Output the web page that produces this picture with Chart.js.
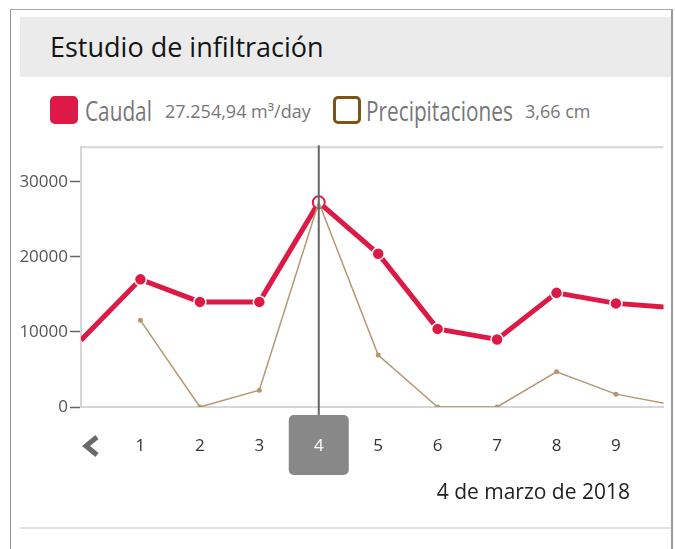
<!DOCTYPE html>
<html>
<head>
<meta charset="utf-8">
<script src="https://cdn.jsdelivr.net/npm/chart.js@4"></script>
<style>
  body { margin: 0; background: #fff; font-family: 'Open Sans', sans-serif; width: 675px; height: 549px; overflow: hidden; position: relative; }
  .frame { position: absolute; left: 10px; top: 9px; width: 660px; height: 600px; border-left: 1px solid #9a9a9a; border-top: 1px solid #aaa; border-right: 2px solid #9a9a9a; z-index: 5; pointer-events: none; }
  .header { position: absolute; left: 20px; top: 17px; width: 651px; height: 60px; background: #ebebeb; }
  .title { position: absolute; left: 50px; top: 46px; transform: translateY(-50%); font-size: 27px; line-height: 1; color: #141414; }
  .lg { position: absolute; top: 110px; transform: translateY(-50%); line-height: 1; color: #777; white-space: nowrap; }
  .cap { font-size: 27px; transform: translateY(-50%) scaleX(0.77); transform-origin: left center; }
  .val { font-size: 18px; top: 111px; }
  .box { position: absolute; top: 96px; width: 28px; height: 28px; border-radius: 5px; box-sizing: border-box; }
  .date { position: absolute; right: 45px; top: 491px; transform: translateY(-50%); font-size: 21px; line-height: 1; color: #222; }
  .sep { position: absolute; left: 20px; top: 527px; width: 651px; height: 2px; background: #e2e2e2; }
  #chart { position: absolute; left: 0; top: 135px; }
</style>
</head>
<body>
<div class="frame"></div>
<div class="header"></div>
<div class="title">Estudio de infiltración</div>
<div class="box" style="left:50px;background:#dc1a45;"></div>
<div class="lg cap" style="left:85px;">Caudal</div>
<div class="lg val" id="caudalVal" style="left:165px;"></div>
<div class="box" style="left:333px;border:3px solid #7d5415;background:#fff;"></div>
<div class="lg cap" style="left:366px;">Precipitaciones</div>
<div class="lg val" id="precipVal" style="left:525px;"></div>
<canvas id="chart" width="671" height="350"></canvas>
<div class="date" id="dateText"></div>
<div class="sep"></div>
<script>
// days shown on the axis (0 is the last day of the previous month, 10 is off screen)
const days = [0, 1, 2, 3, 4, 5, 6, 7, 8, 9, 10];
const dayLabels = ['', '1', '2', '3', '4', '5', '6', '7', '8', '9', ''];
const caudal = [8900, 17000, 14000, 14000, 27254.94, 20400, 10400, 9000, 15200, 13800, 13200];  // m3/day
const precip = [null, 1.55, 0, 0.30, 3.66, 0.93, 0, 0, 0.63, 0.23, 0.03];                          // cm
const yTicks = [0, 10000, 20000, 30000];
const selected = 4;
const selectedDate = '4 de marzo de 2018';

const yMax = 34600;
const xMax = 9.8;
const red = '#dc1a45';
const brown = '#b39871';

document.getElementById('caudalVal').textContent =
  caudal[selected].toLocaleString('es-ES', { minimumFractionDigits: 2 }) + ' m³/day';
document.getElementById('precipVal').textContent =
  precip[selected].toLocaleString('es-ES', { minimumFractionDigits: 2 }) + ' cm';
document.getElementById('dateText').textContent = selectedDate;

const selectionPlugin = {
  id: 'selection',
  beforeDraw(chart) {
    const { ctx, chartArea } = chart;
    const x = chart.scales.x.getPixelForValue(days[selected]);
    // grey box behind the selected day label
    ctx.save();
    ctx.fillStyle = '#888';
    ctx.beginPath();
    ctx.roundRect(x - 30, chartArea.bottom + 8, 60, 60, 5);
    ctx.fill();
    // top border of the plot
    ctx.strokeStyle = '#d6d6d6';
    ctx.lineWidth = 2;
    ctx.beginPath();
    ctx.moveTo(chartArea.left, chartArea.top);
    ctx.lineTo(chartArea.right, chartArea.top);
    ctx.stroke();
    // back chevron
    ctx.strokeStyle = '#6a6a6a';
    ctx.lineWidth = 5;
    ctx.lineJoin = 'miter';
    ctx.beginPath();
    ctx.moveTo(97, chartArea.bottom + 30);
    ctx.lineTo(86, chartArea.bottom + 39);
    ctx.lineTo(97, chartArea.bottom + 48);
    ctx.stroke();
    ctx.restore();
  },
  afterDatasetsDraw(chart) {
    const { ctx, chartArea } = chart;
    const x = chart.scales.x.getPixelForValue(days[selected]);
    ctx.save();
    ctx.strokeStyle = '#666';
    ctx.lineWidth = 2;
    ctx.beginPath();
    ctx.moveTo(x, chartArea.top - 2);
    ctx.lineTo(x, chartArea.bottom + 8);
    ctx.stroke();
    ctx.restore();
  }
};

new Chart(document.getElementById('chart'), {
  type: 'line',
  data: {
    datasets: [
      {
        label: 'Precipitaciones',
        data: days.map((d, i) => ({ x: d, y: precip[i] })),
        yAxisID: 'y2',
        borderColor: brown,
        backgroundColor: brown,
        borderWidth: 1.5,
        pointRadius: (c) => (c.dataIndex === selected ? 0 : 2.5),
        pointBorderWidth: 0,
        tension: 0,
        spanGaps: false
      },
      {
        label: 'Caudal',
        data: days.map((d, i) => ({ x: d, y: caudal[i] })),
        yAxisID: 'y',
        borderColor: red,
        backgroundColor: (c) => (c.dataIndex === selected ? '#fff' : red),
        borderWidth: 5,
        pointRadius: (c) => (c.dataIndex === 0 ? 0 : 6),
        pointBorderColor: (c) => (c.dataIndex === selected ? red : '#fff'),
        pointBorderWidth: (c) => (c.dataIndex === selected ? 2 : 1.5),
        tension: 0
      }
    ]
  },
  options: {
    responsive: false,
    animation: false,
    layout: { padding: { top: 6, right: 1, left: 0, bottom: 0 } },
    plugins: { legend: { display: false }, tooltip: { enabled: false } },
    scales: {
      x: {
        type: 'linear',
        min: 0,
        max: xMax,
        grid: { display: false, drawTicks: false },
        border: { display: true, color: '#d6d6d6', width: 2 },
        ticks: {
          stepSize: 1,
          includeBounds: false,
          autoSkip: false,
          maxRotation: 0,
          padding: 29,
          color: (c) => (c.tick.value === days[selected] ? '#fff' : '#333'),
          font: { family: 'Open Sans', size: 17 },
          callback: (v) => dayLabels[days.indexOf(v)] ?? ''
        },
        afterFit: (s) => { s.height = 78; }
      },
      y: {
        min: 0,
        max: yMax,
        grid: { display: true, drawOnChartArea: false, drawTicks: true, tickLength: 11, tickColor: '#666', tickWidth: 1.5 },
        border: { display: true, color: '#d6d6d6', width: 2 },
        afterBuildTicks: (s) => { s.ticks = yTicks.map((v) => ({ value: v })); },
        ticks: {
          padding: 2,
          color: '#555',
          font: { family: 'Open Sans', size: 17 },
          callback: (v) => String(v)
        },
        afterFit: (s) => { s.width = 81; }
      },
      y2: {
        display: false,
        min: 0,
        max: yMax * precip[selected] / caudal[selected]
      }
    }
  },
  plugins: [selectionPlugin]
});
</script>
</body>
</html>
